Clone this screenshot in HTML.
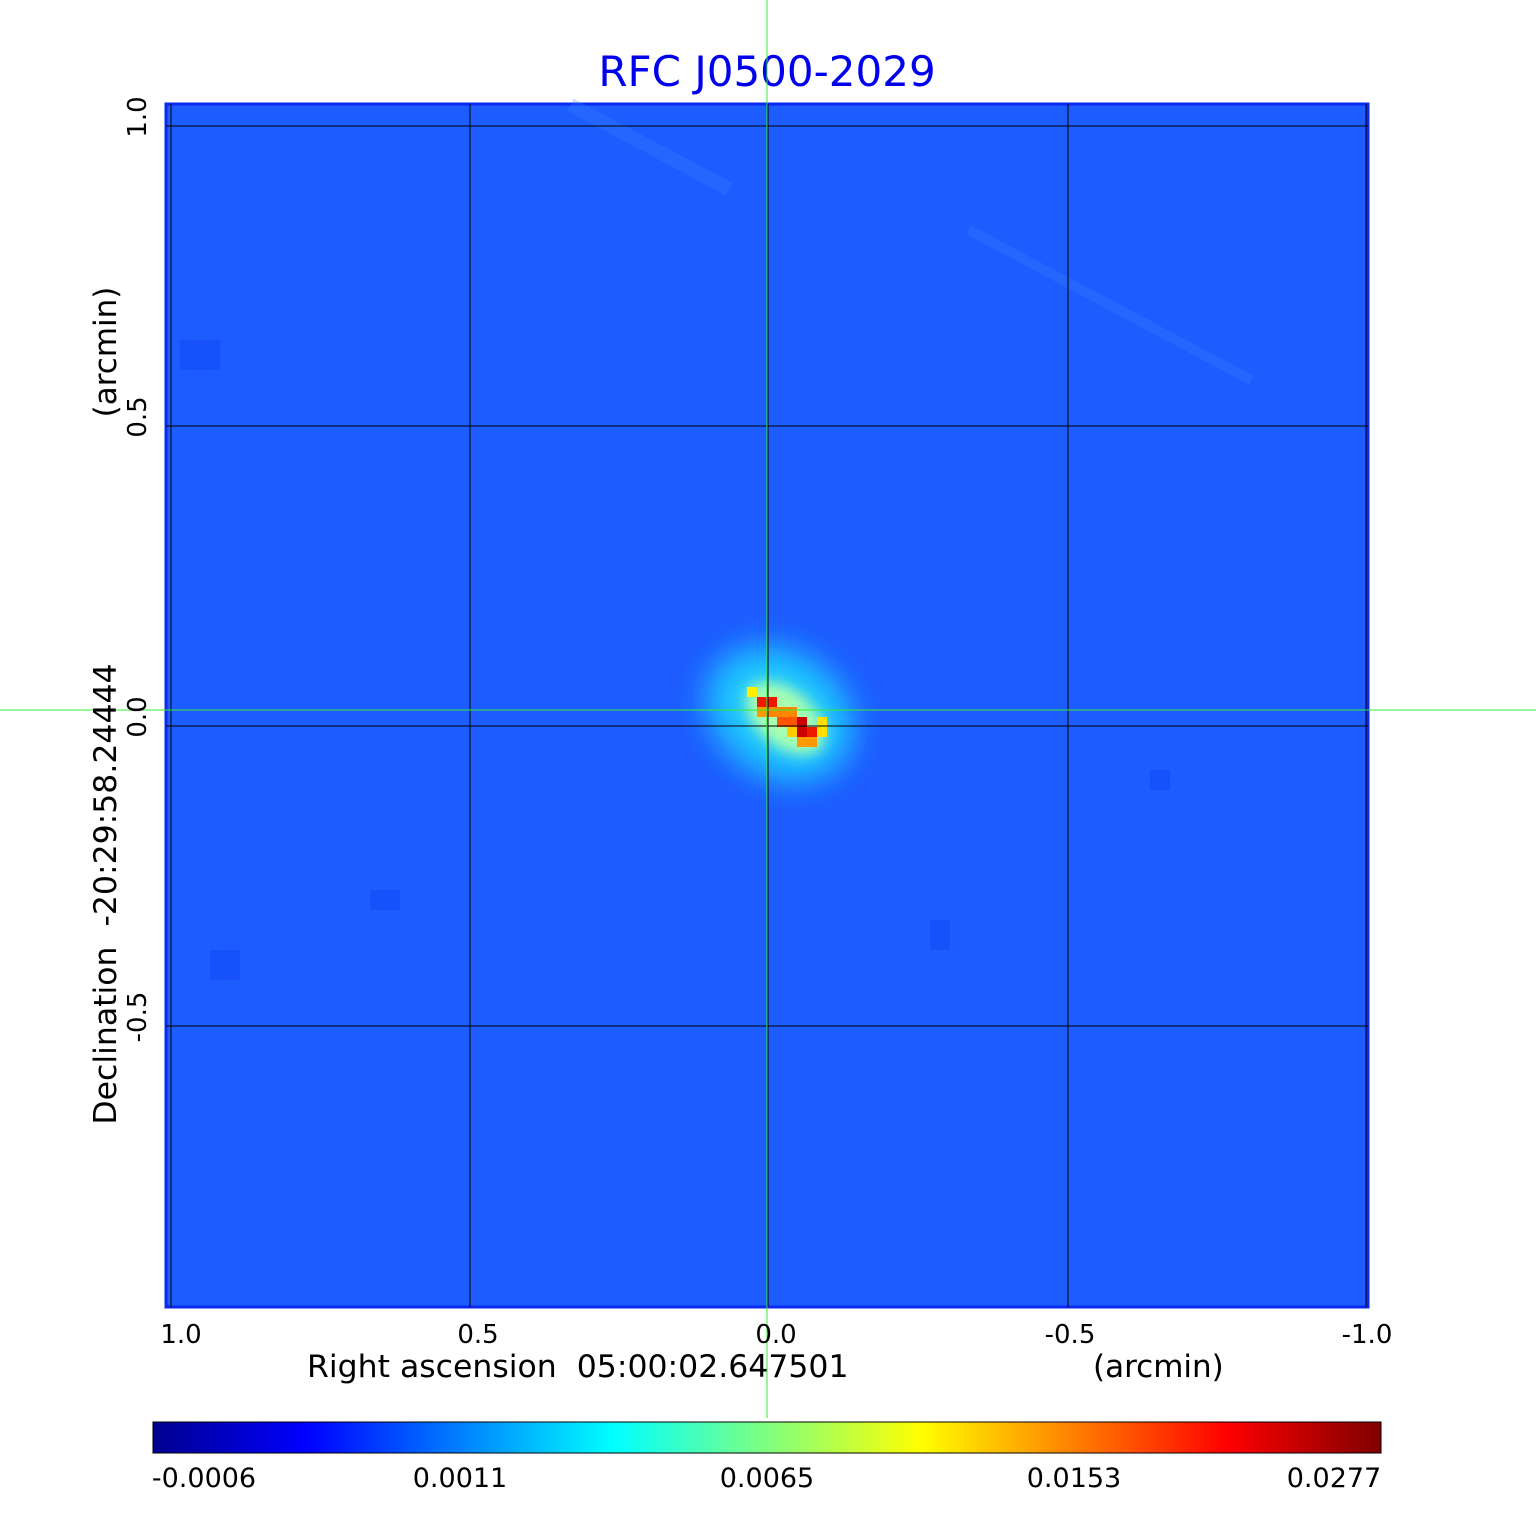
<!DOCTYPE html>
<html><head><meta charset="utf-8"><style>
body{margin:0;background:#fff;width:1536px;height:1511px;overflow:hidden;font-family:"Liberation Sans","DejaVu Sans",sans-serif}
text{white-space:pre}
</style></head><body>
<svg width="1536" height="1511" xmlns="http://www.w3.org/2000/svg" font-family="DejaVu Sans, Liberation Sans, sans-serif">
<defs>
<filter id="b" x="-50%" y="-50%" width="200%" height="200%"><feGaussianBlur stdDeviation="16"/></filter>
<filter id="b2" x="-50%" y="-50%" width="200%" height="200%"><feGaussianBlur stdDeviation="7"/></filter>
<linearGradient id="jet" x1="0" x2="1">
<stop offset="0" stop-color="#00008f"/><stop offset="0.125" stop-color="#0000ff"/>
<stop offset="0.375" stop-color="#00ffff"/><stop offset="0.625" stop-color="#ffff00"/>
<stop offset="0.875" stop-color="#ff0000"/><stop offset="1" stop-color="#800000"/>
</linearGradient>
</defs>
<text x="767" y="86" text-anchor="middle" font-size="42" fill="#0000ee">RFC J0500-2029</text>
<rect x="166" y="104" width="1202" height="1203" fill="#1d5cff" stroke="#0a2bef" stroke-width="3"/>
<g opacity="0.5" fill="#0f46f5">
<rect x="180" y="340" width="40" height="30"/><rect x="370" y="890" width="30" height="20"/><rect x="210" y="950" width="30" height="30"/><rect x="1150" y="770" width="20" height="20"/><rect x="930" y="920" width="20" height="30"/>
</g>
<g fill="#3d86ff" opacity="0.25">
<rect x="560" y="140" width="180" height="14" transform="rotate(28 650 147)"/>
<rect x="950" y="300" width="320" height="10" transform="rotate(28 1110 305)"/>
</g>
<ellipse cx="780" cy="714" rx="78" ry="62" transform="rotate(35 780 714)" fill="#1ec8ff" filter="url(#b)"/>
<ellipse cx="785" cy="718" rx="46" ry="28" transform="rotate(40 785 718)" fill="#a8ffb0" filter="url(#b2)"/>
<g shape-rendering="crispEdges">
<rect x="747" y="687" width="10" height="10" fill="#ffee00"/>
<rect x="757" y="697" width="20" height="10" fill="#ee1a00"/>
<rect x="767" y="707" width="30" height="10" fill="#ff8800"/>
<rect x="777" y="717" width="30" height="10" fill="#ff5500"/>
<rect x="797" y="717" width="10" height="20" fill="#cc0000"/>
<rect x="807" y="727" width="10" height="10" fill="#ee1a00"/>
<rect x="787" y="727" width="10" height="10" fill="#ffcc00"/>
<rect x="797" y="737" width="20" height="10" fill="#ff9900"/>
<rect x="817" y="717" width="10" height="20" fill="#ffe000"/>
<rect x="757" y="707" width="10" height="10" fill="#ff9900"/>
</g>
<g stroke="#000" stroke-width="1" shape-rendering="crispEdges">
<line x1="171" y1="104" x2="171" y2="1307"/><line x1="470" y1="104" x2="470" y2="1307"/><line x1="768" y1="104" x2="768" y2="1307"/><line x1="1068" y1="104" x2="1068" y2="1307"/><line x1="1366" y1="104" x2="1366" y2="1307"/>
<line x1="166" y1="126" x2="1368" y2="126"/><line x1="166" y1="426" x2="1368" y2="426"/><line x1="166" y1="726" x2="1368" y2="726"/><line x1="166" y1="1026" x2="1368" y2="1026"/>
</g>
<g stroke="#33ee33" stroke-width="1" shape-rendering="crispEdges">
<line x1="767" y1="0" x2="767" y2="1418"/><line x1="0" y1="710" x2="1536" y2="710"/>
</g>
<g font-size="26" fill="#000">
<text x="181" y="1343" text-anchor="middle">1.0</text>
<text x="478" y="1343" text-anchor="middle">0.5</text>
<text x="776" y="1343" text-anchor="middle">0.0</text>
<text x="1070" y="1343" text-anchor="middle">-0.5</text>
<text x="1367" y="1343" text-anchor="middle">-1.0</text>
<text x="307" y="1377" font-size="31.5">Right ascension  05:00:02.647501</text>
<text x="1093" y="1377" font-size="31">(arcmin)</text>
<text transform="translate(146,117) rotate(-90)" text-anchor="middle">1.0</text>
<text transform="translate(146,417) rotate(-90)" text-anchor="middle">0.5</text>
<text transform="translate(146,717) rotate(-90)" text-anchor="middle">0.0</text>
<text transform="translate(146,1017) rotate(-90)" text-anchor="middle">-0.5</text>
<text transform="translate(116,894) rotate(-90)" text-anchor="middle" font-size="31.5">Declination  -20:29:58.24444</text>
<text transform="translate(116,352) rotate(-90)" text-anchor="middle" font-size="31">(arcmin)</text>
</g>
<rect x="153" y="1422" width="1228" height="31" fill="url(#jet)" stroke="#000" stroke-width="1"/>
<g font-size="27" fill="#000" text-anchor="middle">
<text x="204" y="1487">-0.0006</text>
<text x="460" y="1487">0.0011</text>
<text x="767" y="1487">0.0065</text>
<text x="1074" y="1487">0.0153</text>
<text x="1334" y="1487">0.0277</text>
</g>
</svg>
</body></html>
